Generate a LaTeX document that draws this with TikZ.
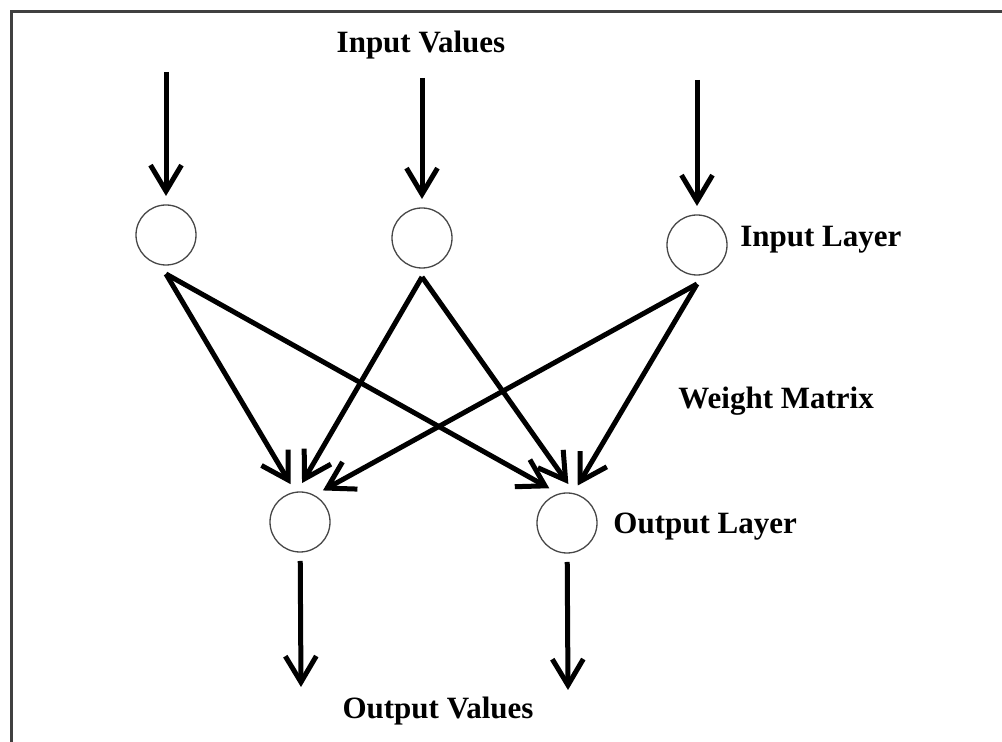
\documentclass[tikz,border=0pt]{standalone}
\usepackage{fontspec}
\setmainfont{Liberation Serif}
\usepackage{tikz}
\usetikzlibrary{arrows.meta,positioning}

\begin{document}
\begin{tikzpicture}[x=0.5pt,y=-0.5pt]
  % Colors
  \colorlet{framecolor}{black!75}
  \colorlet{neuroncolor}{black!72}

  % Styles
  \tikzstyle{neuron}=[circle,draw=neuroncolor,line width=0.65pt,minimum size=30pt,inner sep=0pt,outer sep=4.5pt]
  \tikzstyle{flow}=[line width=2.5pt,-{Straight Barb[length=13pt,width=15.5pt]}]
  \tikzstyle{label text}=[font=\fontsize{15.5}{18}\selectfont\bfseries,inner sep=0pt]

  \useasboundingbox (0,0) rectangle (1002,742);

  % The frame (only top and left edge are visible)
  \draw[framecolor,line width=1.3pt] (11.5,742) -- (11.5,11.5) -- (1002,11.5);

  % Layers
  \node[neuron] (in1) at (166,235) {};
  \node[neuron] (in2) at (422,238) {};
  \node[neuron] (in3) at (697,245) {};
  \node[neuron] (out1) at (300,522) {};
  \node[neuron] (out2) at (567,523) {};

  % Free ends of the value arrows
  \coordinate (v1) at (166,72);
  \coordinate (v2) at (422,78);
  \coordinate (v3) at (697,80);
  \coordinate (w1) at (301,687);
  \coordinate (w2) at (568,690);

  % Texts
  \node[label text] (invals) at (421,45) {Input Values};
  \node[label text,anchor=west] (inlayer) at (740,240) {Input Layer};
  \node[label text,anchor=west] (weights) at (678,401) {Weight Matrix};
  \node[label text,anchor=west] (outlayer) at (613,527) {Output Layer};
  \node[label text] (outvals) at (438,711) {Output Values};

  % Input values
  \foreach \i in {1,2,3}
    \draw[flow] (v\i) -- (in\i);

  % Weight matrix
  \draw[flow] (in1.south) -- (out1.104);
  \draw[flow] (in1.south) -- (out2.117);
  \draw[flow] (in2.south) -- (out1.87);
  \draw[flow] (in2.south) -- (out2.88);
  \draw[flow] (in3.south) -- (out1.54);
  \draw[flow] (in3.south) -- (out2.74);

  % Output values
  \draw[flow] (out1) -- (w1);
  \draw[flow] (out2) -- (w2);
\end{tikzpicture}
\end{document}
